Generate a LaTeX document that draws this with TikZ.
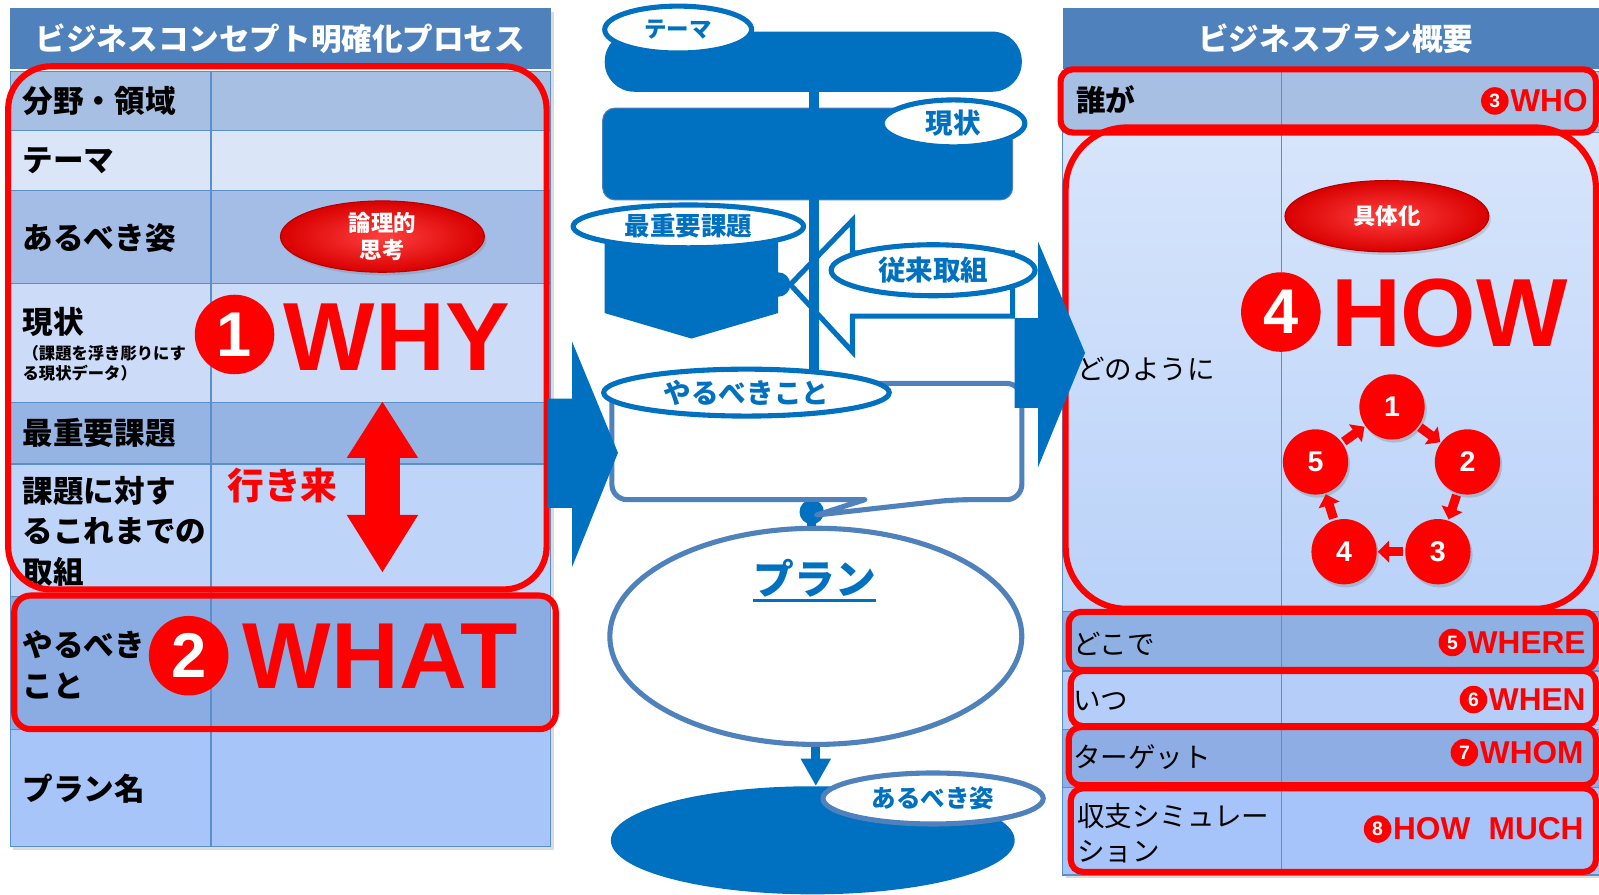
\documentclass[tikz,border=0pt]{standalone}
\usepackage{fontspec}
\setmainfont{Noto Sans CJK JP}
\newfontfamily\latf{Liberation Sans}
\usetikzlibrary{shapes.geometric,shadows,calc,arrows.meta}
\definecolor{hdr}{HTML}{4F81BD}
\definecolor{gridc}{HTML}{5B8FC9}
\definecolor{fcblue}{HTML}{0070C0}
\definecolor{steel}{HTML}{4F81BD}
\definecolor{rred}{HTML}{FF0000}
\definecolor{LA}{HTML}{A7BFE3}
\definecolor{LB}{HTML}{DAE6F8}
\definecolor{LC}{HTML}{A3BDE6}
\definecolor{LD}{HTML}{CBDBF8}
\definecolor{LE}{HTML}{95B4E3}
\definecolor{LF}{HTML}{BFD4F9}
\definecolor{LG}{HTML}{8BACE3}
\definecolor{LH}{HTML}{A8C5FA}
\definecolor{RB1}{HTML}{D7E5FB}
\definecolor{RB2}{HTML}{BAD2F9}
\definecolor{RC}{HTML}{8FB0E3}
\definecolor{RD}{HTML}{B4CEF9}
\definecolor{RE}{HTML}{8DADE4}
\definecolor{RF}{HTML}{A6C4FA}
\begin{document}
\begin{tikzpicture}[x=1pt,y=-1pt,
  lbl/.style={anchor=west,inner sep=0pt,align=left,font=\bfseries\fontsize{30}{40}\selectfont},
  rlbl/.style={anchor=west,inner sep=0pt,align=left,font=\fontsize{27}{35}\selectfont},
  hdrtxt/.style={text=white,inner sep=0pt,font=\bfseries\fontsize{30}{36}\selectfont},
  gridline/.style={draw=gridc,line width=1.2pt},
  redframe/.style={draw=rred,line width=6pt},
  flowlbl/.style={ellipse,draw=fcblue,line width=5pt,fill=white,text=fcblue,inner sep=0pt},
  planlbl/.style={ellipse,draw=steel,line width=5pt,fill=white,text=fcblue,inner sep=0pt},
  glossy/.style={ellipse,inner sep=0pt,draw=red!70!black,line width=1pt,inner color=red!75!white,outer color=red!85!black,text=white,align=center,font=\bfseries\fontsize{22}{27}\selectfont,drop shadow={opacity=0.3,shadow xshift=2pt,shadow yshift=-3pt}},
  bignum/.style={circle,fill=rred,text=white,inner sep=0pt,minimum size=78pt,font=\latf\bfseries\fontsize{62}{62}\selectfont},
  bigword/.style={anchor=base west,inner sep=0pt,text=rred,font=\latf\bfseries\fontsize{95}{95}\selectfont},
  smallnum/.style={circle,fill=rred,text=white,inner sep=0pt,minimum size=27pt,font=\latf\bfseries\fontsize{19}{19}\selectfont},
  smallword/.style={anchor=east,inner sep=0pt,text=rred,font=\latf\bfseries\fontsize{31}{31}\selectfont},
  cyc/.style={circle,fill=rred,text=white,inner sep=0pt,minimum size=64pt,font=\latf\bfseries\fontsize{28}{28}\selectfont,drop shadow={opacity=0.35,shadow xshift=2pt,shadow yshift=-3pt}},
  cycarr/.style={draw=rred,line width=9pt,-{Triangle[width=21pt,length=11pt]}},
  bluearrow/.style={fill=fcblue,draw=none}
]
\useasboundingbox (0,0) rectangle (1568,877);
\clip (0,0) rectangle (1568,877);
\fill[white] (0,0) rectangle (1568,877);

% ---------------- left table ----------------
\fill[black!35,opacity=0.4] (13,12) rectangle (543,834);
\fill[hdr] (10,8) rectangle (540,68);
\node[hdrtxt] (lhdr) at (275,38) {ビジネスコンセプト明確化プロセス};
\fill[white] (10,68) rectangle (540,70);
\fill[LA] (10,70) rectangle (540,128);
\fill[LB] (10,128) rectangle (540,187);
\fill[LC] (10,187) rectangle (540,278);
\fill[LD] (10,278) rectangle (540,395);
\fill[LE] (10,395) rectangle (540,455);
\fill[LF] (10,455) rectangle (540,585);
\fill[LG] (10,585) rectangle (540,715);
\fill[LH] (10,715) rectangle (540,830);
\foreach \yy in {128,187,278,395,455,585,715} \draw[gridline] (10,\yy) -- (540,\yy);
\draw[gridline] (207,70) -- (207,830);
\draw[gridline] (10,70) rectangle (540,830);

\node[lbl] (l1) at (22,99) {分野・領域};
\node[lbl] (l2) at (22,158) {テーマ};
\node[lbl] (l3) at (22,233) {あるべき姿};
\node[lbl] (l4) at (22,316) {現状};
\node[anchor=west,inner sep=0pt,align=left,font=\bfseries\fontsize{16}{20}\selectfont] (l4s) at (22,356) {（課題を浮き彫りにす\\る現状データ）};
\node[lbl] (l5) at (22,425) {最重要課題};
\node[lbl] (l6) at (22,521) {課題に対す\\るこれまでの\\取組};
\node[lbl] (l7) at (22,652) {やるべき\\こと};
\node[lbl] (l8) at (22,773) {プラン名};

% ---------------- right table ----------------
\fill[black!35,opacity=0.4] (1045,12) rectangle (1580,861);
\fill[hdr] (1042,8) rectangle (1580,68);
\node[hdrtxt] (rhdr) at (1310,38) {ビジネスプラン概要};
\fill[white] (1042,68) rectangle (1580,70);
\fill[LA] (1042,70) rectangle (1580,130);
\shade[top color=RB1,bottom color=RB2] (1042,130) rectangle (1580,600);
\fill[RC] (1042,600) rectangle (1580,658);
\fill[RD] (1042,658) rectangle (1580,715);
\fill[RE] (1042,715) rectangle (1580,772);
\fill[RF] (1042,772) rectangle (1580,858);
\foreach \yy in {130,600,658,715,772} \draw[gridline] (1042,\yy) -- (1580,\yy);
\draw[gridline] (1257,70) -- (1257,858);
\draw[gridline] (1042,70) rectangle (1580,858);

\node[anchor=west,inner sep=0pt,font=\bfseries\fontsize{29}{35}\selectfont] (r1) at (1055,98) {誰が};
\node[rlbl] (r2) at (1056,362) {どのように};
\node[rlbl] (r3) at (1052,631) {どこで};
\node[rlbl] (r4) at (1052,687) {いつ};
\node[rlbl] (r5) at (1052,742) {ターゲット};
\node[rlbl] (r6) at (1056,817) {収支シミュレー\\ション};

% ---------------- center flow ----------------
\node[fill=fcblue,rounded corners=29pt,minimum width=409pt,minimum height=59pt,inner sep=0pt] (themebar) at (797.5,60.5) {};
\node[fill=fcblue,draw=steel,line width=1pt,rounded corners=12pt,minimum width=402pt,minimum height=90pt,inner sep=0pt] (genjobox) at (792,151) {};
\fill[fcblue] (593,228) -- (763,228) -- (763,307) -- (678,332) -- (593,307) -- cycle;
\node[circle,fill=fcblue,minimum size=24pt,inner sep=0pt] (bump) at (763,279) {};
\draw[fcblue,line width=5pt,fill=white,line join=miter] (775,279) -- (836,216) -- (836,248) -- (993,248) -- (993,310) -- (836,310) -- (836,345) -- cycle;
\coordinate (callouttop) at (798,376);
\draw[fcblue,line width=10pt] (themebar.south -| callouttop) -- (callouttop);

\node[circle,fill=fcblue,minimum size=24pt,inner sep=0pt] (dot) at (796,502) {};
\node[ellipse,draw=steel,line width=5pt,fill=white,minimum width=404pt,minimum height=212pt,inner sep=0pt] (plan) at (800,624) {};
\draw[fcblue,line width=9pt] (dot.center) -- (dot.center |- plan.north);
\draw[steel,line width=5pt,fill=white,line join=round] (700,376) [rounded corners=15pt] -- (1002,376) -- (1002,490) -- (935,490) [sharp corners] -- (801,505) -- (848,490) [rounded corners=15pt] -- (600,490) -- (600,376) -- (700,376);

\node[text=fcblue,inner sep=0pt,font=\bfseries\fontsize{40}{40}\selectfont] (plantxt) at (799,567) {プラン};
\draw[fcblue,line width=2.5pt] ($(plantxt.south west)+(0,3)$) -- ($(plantxt.south east)+(0,3)$);

\node[ellipse,fill=fcblue,minimum width=396pt,minimum height=106pt,inner sep=0pt] (goal) at (797,824) {};
\draw[fcblue,line width=9pt,-{Triangle[width=28pt,length=27pt]}] (plan.south) -- (plan.south |- goal.north);

\node[flowlbl,minimum width=144pt,minimum height=46pt,font=\bfseries\fontsize{22}{22}\selectfont] (themelbl) at (665,29) {テーマ};
\node[flowlbl,minimum width=140pt,minimum height=46pt,font=\bfseries\fontsize{27}{27}\selectfont] (genjolbl) at (935,121) {現状};
\node[flowlbl,minimum width=226pt,minimum height=42pt,font=\bfseries\fontsize{25}{25}\selectfont] (saijulbl) at (675,222) {最重要課題};
\node[flowlbl,minimum width=200pt,minimum height=50pt,font=\bfseries\fontsize{27}{27}\selectfont] (juraillbl) at (915,265) {従来取組};
\node[flowlbl,minimum width=280pt,minimum height=46pt,font=\bfseries\fontsize{27}{27}\selectfont] (yarulbl) at (732,385) {やるべきこと};
\node[planlbl,minimum width=216pt,minimum height=50pt,font=\bfseries\fontsize{24}{24}\selectfont] (goallbl) at (915,783) {あるべき姿};

% ---------------- left red overlays ----------------
\draw[redframe,rounded corners=42pt] (8,65) rectangle (536,578);
\draw[redframe,rounded corners=16pt] (14,584) rectangle (545,715);
\node[glossy,minimum width=200pt,minimum height=70pt] (ronri) at (375,232) {論理的\\思考};
\node[bignum] (n1) at (230,328) {1};
\node[bigword] (why) at (278,363) {WHY};
\fill[rred] (375,394) -- (410,449) -- (392,449) -- (392,505) -- (410,505) -- (375,561) -- (340,505) -- (358,505) -- (358,449) -- (340,449) -- cycle;
\node[text=rred,inner sep=0pt,font=\bfseries\fontsize{36}{36}\selectfont] (ikiki) at (277,476) {行き来};
\node[bignum] (n2) at (185,643) {2};
\node[bigword,font=\latf\bfseries\fontsize{92}{92}\selectfont] (what) at (238,675) {WHAT};

% ---------------- right red overlays ----------------
\draw[redframe,rounded corners=12pt] (1040,68) rectangle (1565,130);
\draw[redframe,rounded corners=60pt] (1045,125) rectangle (1565,597);
\draw[redframe,rounded corners=12pt] (1048,600) rectangle (1565,657);
\draw[redframe,rounded corners=12pt] (1050,658) rectangle (1565,712);
\draw[redframe,rounded corners=12pt] (1048,713) rectangle (1565,770);
\draw[redframe,rounded corners=12pt] (1050,773) rectangle (1565,855);

\node[smallword] (who) at (1557,99) {WHO};
\node[smallnum] (n3) at ($(who.west)+(-15,0)$) {3};
\node[smallword] (where) at (1555,630) {WHERE};
\node[smallnum] (n5) at ($(where.west)+(-15,0)$) {5};
\node[smallword] (when) at (1555,686) {WHEN};
\node[smallnum] (n6) at ($(when.west)+(-15,0)$) {6};
\node[smallword] (whom) at (1553,738) {WHOM};
\node[smallnum] (n7) at ($(whom.west)+(-15,0)$) {7};
\node[smallword] (howmuch) at (1553,813) {HOW\hspace{18pt}MUCH};
\node[smallnum] (n8) at ($(howmuch.west)+(-15,0)$) {8};

\node[glossy,minimum width=200pt,minimum height=70pt] (gutai) at (1360,212) {具体化};
\node[bignum] (n4) at (1256,306) {4};
\node[bigword] (how) at (1305,340) {HOW};

\node[cyc] (c1) at (1365,399) {1};
\node[cyc] (c2) at (1439,453) {2};
\node[cyc] (c3) at (1410,541) {3};
\node[cyc] (c4) at (1318,541) {4};
\node[cyc] (c5) at (1290,453) {5};
\draw[cycarr] ($(c1)!0.37!(c2)$) -- ($(c1)!0.64!(c2)$);
\draw[cycarr] ($(c2)!0.37!(c3)$) -- ($(c2)!0.64!(c3)$);
\draw[cycarr] ($(c3)!0.37!(c4)$) -- ($(c3)!0.64!(c4)$);
\draw[cycarr] ($(c4)!0.37!(c5)$) -- ($(c4)!0.64!(c5)$);
\draw[cycarr] ($(c5)!0.37!(c1)$) -- ($(c5)!0.64!(c1)$);

% ---------------- big blue arrows ----------------
\fill[bluearrow] (537,391) -- (561,391) -- (561,335) -- (606,444) -- (561,556) -- (561,498) -- (537,498) -- cycle;
\fill[bluearrow] (995,312) -- (1018,312) -- (1018,237) -- (1064,346) -- (1018,458) -- (1018,400) -- (995,400) -- cycle;
\end{tikzpicture}
\end{document}
